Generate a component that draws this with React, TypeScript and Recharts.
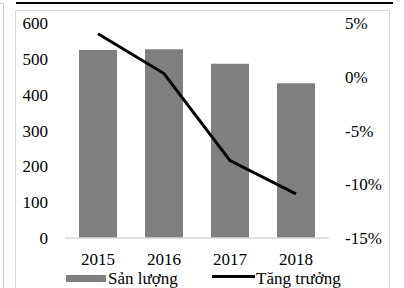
import React from 'react';
import { ComposedChart, Bar, Line, XAxis, YAxis, Legend } from 'recharts';

const years = ['2015', '2016', '2017', '2018'];
const sanLuong = [525, 527, 486, 432];
const tangTruong = [4.0, 0.3, -7.8, -10.9];
const leftTicks = [0, 100, 200, 300, 400, 500, 600];
const rightTicks = [-15, -10, -5, 0, 5];
const seriesNames = { bar: 'Sản lượng', line: 'Tăng trưởng' };

const data = years.map((y, i) => ({ year: y, sl: sanLuong[i], tt: tangTruong[i] }));

const FONT = "'Liberation Serif', 'Noto Serif', FreeSerif, 'Nimbus Roman', 'Nimbus Roman No9 L', 'Times New Roman', Tinos, 'DejaVu Serif', serif";
const tickStyle = { fill: '#000', fontSize: 17, fontFamily: FONT, style: { fontFamily: FONT } };

const LegendContent = () => (
  <svg width={404} height={20} style={{ display: 'block', fontFamily: FONT }}>
    <rect x={66} y={7} width={40} height={7} fill="#808080" />
    <text x={108} y={16} fontSize={17} style={{ fontFamily: FONT }} fill="#000">{seriesNames.bar}</text>
    <line x1={212} x2={255} y1={8.5} y2={8.5} stroke="#000" strokeWidth={3} />
    <text x={256} y={16} fontSize={17} style={{ fontFamily: FONT }} fill="#000">{seriesNames.line}</text>
  </svg>
);

export default function App() {
  return (
    <div style={{ position: 'absolute', left: 0, top: 0, width: 404, height: 288, overflow: 'hidden', background: '#fff', fontFamily: FONT }}>
      <div style={{ position: 'absolute', left: 16, top: 2, width: 377, height: 2, background: '#000' }} />
      <div style={{ position: 'absolute', left: 15, top: 10, width: 373, height: 300, border: '1px solid #d9d9d9' }} />
      <div style={{ position: 'absolute', left: 0, top: 3, width: 4, height: 1, background: '#d0d0d0' }} />
      <div style={{ position: 'absolute', left: 3, top: 3, width: 1, height: 290, background: '#d0d0d0' }} />
      <div style={{ position: 'absolute', left: 0, top: 0 }}>
        <ComposedChart width={404} height={288} data={data} margin={{ top: 23, right: 0, bottom: 0, left: 0 }} style={{ fontFamily: FONT }}>
          <XAxis
            dataKey="year"
            height={50}
            axisLine={{ stroke: '#d9d9d9', strokeWidth: 1.5 }}
            tickLine={false}
            tickSize={0}
            tickMargin={15}
            tick={tickStyle}
          />
          <YAxis
            yAxisId="left"
            orientation="left"
            width={65}
            domain={[0, 600]}
            ticks={leftTicks}
            axisLine={false}
            tickLine={false}
            tickSize={0}
            tickMargin={17}
            tick={tickStyle}
            interval={0}
          />
          <YAxis
            yAxisId="right"
            orientation="right"
            width={75}
            domain={[-15, 5]}
            ticks={rightTicks}
            axisLine={false}
            tickLine={false}
            tickSize={0}
            tickMargin={16}
            tick={{ ...tickStyle, textAnchor: 'start' }}
            tickFormatter={(v: number) => `${v}%`}
            interval={0}
          />
          <Bar yAxisId="left" dataKey="sl" name={seriesNames.bar} fill="#808080" barSize={38} isAnimationActive={false} />
          <Line yAxisId="right" dataKey="tt" name={seriesNames.line} stroke="#000" strokeWidth={3} dot={false} activeDot={false} type="linear" isAnimationActive={false} />
          <Legend
            layout="horizontal"
            verticalAlign="middle"
            align="center"
            content={LegendContent}
            wrapperStyle={{ position: 'absolute', top: 268, left: 0, width: 404, height: 20 }}
          />
        </ComposedChart>
      </div>
    </div>
  );
}
